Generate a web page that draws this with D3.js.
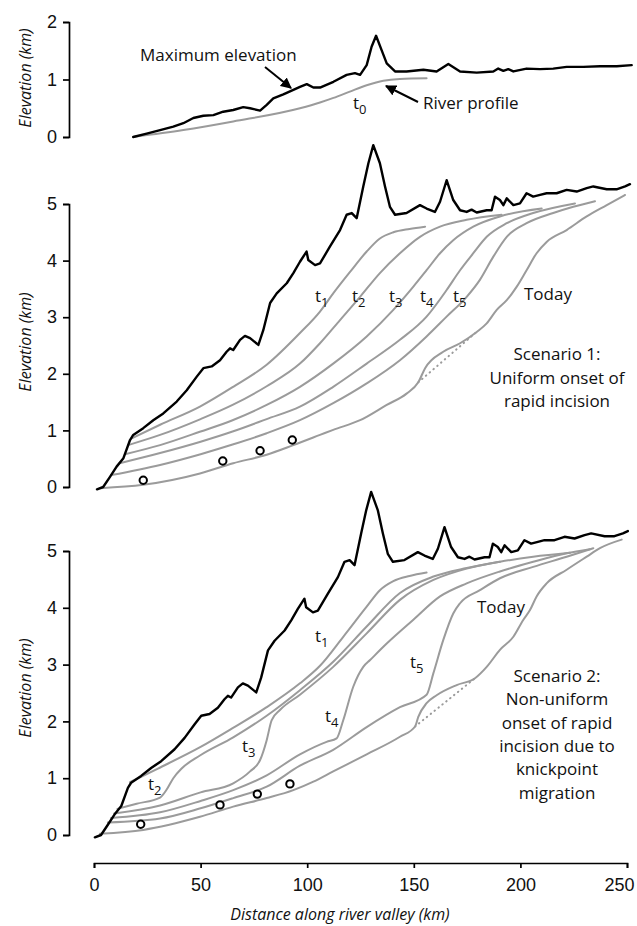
<!DOCTYPE html>
<html>
<head>
<meta charset="utf-8">
<script src="https://cdn.jsdelivr.net/npm/d3@7/dist/d3.min.js"></script>
<style>
  html, body { margin: 0; padding: 0; background: #fff; }
  svg { display: block; }
  .ann { font-family: "Open Sans", "Noto Sans", sans-serif; fill: #111; }
</style>
</head>
<body>
<svg id="chart" width="637" height="926"></svg>
<script>
// ---------------- DATA (km along valley, km elevation) ----------------
const xTicks = [0, 50, 100, 150, 200, 250];
const yTicksTop = [0, 1, 2];
const yTicksMain = [0, 1, 2, 3, 4, 5];

// Initial topography (panel t0)
const topMaxElevation = [[18.4,0],[24.7,0.06],[31,0.12],[37.2,0.18],[41.9,0.24],[46.6,0.33],[51.3,0.37],[56,0.38],[60.6,0.44],[65.3,0.47],[70,0.52],[73.2,0.50],[77.9,0.46],[81,0.56],[84.1,0.67],[88.8,0.74],[93.5,0.82],[96.6,0.87],[99.8,0.92],[102.9,0.86],[106,0.86],[112.3,0.96],[118.5,1.08],[122.4,1.11],[124.8,1.08],[127.9,1.25],[130.2,1.57],[132.3,1.76],[134.9,1.51],[137.3,1.28],[141.2,1.14],[146.6,1.14],[154.5,1.17],[160.7,1.14],[166.2,1.27],[171.7,1.14],[179.5,1.12],[187.3,1.14],[189.6,1.19],[192,1.15],[194.3,1.18],[196.7,1.14],[202.9,1.19],[209.2,1.18],[215.4,1.19],[221.7,1.22],[229.5,1.22],[237.4,1.23],[245.2,1.23],[252.2,1.25]];
const topRiverProfile = [[18.4,0],[41.9,0.12],[65.3,0.27],[96.6,0.50],[106,0.60],[112.3,0.68],[120,0.79],[127.9,0.90],[135.7,0.98],[143.5,1.01],[156,1.02]];

// Present-day maximum elevation (both scenarios)
const maxElevation = [[1.4,-0.04],[4.3,0],[7.5,0.18],[10.6,0.36],[13.8,0.51],[16.9,0.83],[18.4,0.92],[23.1,1.04],[27.8,1.18],[32.5,1.30],[38.8,1.51],[43.5,1.71],[48.2,1.95],[51.3,2.10],[55.2,2.13],[59.1,2.24],[62.2,2.39],[63.8,2.45],[65.3,2.42],[68.5,2.60],[70.8,2.67],[73.2,2.63],[77.1,2.51],[79.4,2.77],[82.6,3.25],[85.7,3.42],[90.4,3.60],[93.5,3.78],[96.6,3.98],[99.7,4.16],[100.5,4.01],[103.7,3.92],[106,3.95],[110.7,4.25],[115.4,4.54],[118.5,4.81],[120.9,4.84],[123.2,4.75],[126.3,5.31],[128.7,5.72],[131.0,6.04],[134.1,5.72],[136.5,5.31],[138.8,4.95],[141.2,4.81],[146.6,4.84],[152.9,4.98],[156,4.92],[159.9,4.86],[162.3,5.04],[165.4,5.42],[168.5,5.07],[171.7,4.89],[174.8,4.86],[177.1,4.90],[179.5,4.85],[184.2,4.89],[186.5,4.89],[188.1,5.13],[190.4,5.07],[192,4.98],[193.6,5.10],[196.7,4.98],[199.8,5.01],[202.9,5.19],[206,5.13],[209.2,5.16],[212.3,5.19],[217,5.19],[221.7,5.25],[226.4,5.22],[231.1,5.28],[234.2,5.31],[240.5,5.26],[245.1,5.26],[249.1,5.31],[251.4,5.35]];

// Scenario 1 river profiles
const s1T1 = [[17.7,0.86],[31,1.10],[49.7,1.42],[65.3,1.77],[81,2.16],[96.6,2.72],[106,3.10],[112.2,3.42],[120.1,3.80],[127.9,4.16],[134.1,4.39],[140.4,4.50],[148,4.56],[155.3,4.60]];
const s1T2 = [[16,0.74],[31,0.92],[50,1.2],[65,1.45],[81,1.78],[96.6,2.18],[106,2.54],[115.4,2.95],[124.8,3.36],[134.1,3.78],[143.5,4.13],[152.9,4.42],[162.3,4.60],[174.8,4.72],[191.2,4.81]];
const s1T3 = [[14.5,0.58],[31,0.74],[50,0.98],[65,1.18],[81,1.45],[96.6,1.77],[112.2,2.18],[127.9,2.66],[140.4,3.13],[149.8,3.54],[156,3.83],[162.3,4.13],[168.5,4.36],[177.9,4.60],[190.4,4.78],[210,4.92]];
const s1T4 = [[12,0.42],[31,0.60],[50,0.80],[65,0.98],[81,1.2],[96.6,1.42],[112.2,1.77],[127.9,2.18],[143.5,2.60],[156,3.01],[165.4,3.48],[171.7,3.83],[177.9,4.13],[184.2,4.42],[193.6,4.66],[206,4.84],[225.6,5.01]];
const s1T5 = [[8,0.21],[31,0.39],[50,0.58],[65,0.75],[81,0.95],[96.6,1.18],[112.2,1.48],[127.9,1.83],[143.5,2.24],[156,2.66],[165.4,3.01],[174.8,3.36],[181,3.66],[187.3,4.07],[193.6,4.42],[202.9,4.66],[215.4,4.84],[224.8,4.95],[235,5.05]];
const s1Today = [[2.8,-0.02],[23.1,0.04],[49.7,0.24],[65.3,0.42],[81,0.57],[93.5,0.74],[106,0.92],[112.2,1.01],[124.8,1.18],[137.3,1.45],[146.6,1.65],[152.1,1.85],[155.3,2.10],[163.8,2.39],[171.7,2.54],[179.5,2.74],[184.2,2.89],[188.9,3.13],[193.6,3.30],[198.3,3.54],[202.9,3.83],[207.6,4.13],[212.3,4.33],[221.7,4.54],[231.1,4.78],[240.5,4.98],[249.1,5.16]];
const s1Dotted = [[152.1,1.85],[179.5,2.74]];
const s1Samples = [[23.1,0.12],[60.4,0.46],[77.9,0.64],[93,0.83]];

// Scenario 2 river profiles
const s2T1 = [[16.9,0.93],[30,1.17],[50,1.55],[65,1.88],[81,2.25],[96.6,2.67],[106,2.98],[116.9,3.49],[127.9,4.02],[134.1,4.31],[140.4,4.47],[148,4.56],[156,4.62]];
const s2T2 = [[11,0.46],[20,0.55],[31,0.66],[34.1,0.80],[37.2,1.0],[41.1,1.17],[49.7,1.40],[65.3,1.72],[81,2.10],[96.6,2.55],[112.2,3.05],[127.9,3.67],[143.5,4.26],[159.2,4.55],[174.8,4.70],[190.4,4.81]];
const s2T3 = [[9.5,0.38],[31,0.52],[50,0.75],[65.3,0.91],[73.2,1.12],[77.9,1.32],[81,1.67],[83.3,2.02],[87.2,2.20],[96.6,2.47],[112.2,2.96],[127.9,3.55],[143.5,4.14],[159.2,4.49],[174.8,4.69],[190.4,4.81],[206,4.90],[223.3,4.97]];
const s2T4 = [[8,0.30],[31,0.40],[50,0.60],[65.3,0.79],[81,1.05],[96.6,1.42],[109.1,1.64],[113.8,1.70],[116.9,2.02],[121.6,2.61],[126.3,2.96],[129.5,3.08],[137.3,3.37],[149.8,3.79],[162.3,4.20],[174.8,4.43],[190.4,4.64],[206,4.81],[221.7,4.96],[232.6,5.03]];
const s2T5 = [[6.5,0.22],[31,0.29],[50,0.47],[65.3,0.65],[81,0.85],[96.6,1.22],[112.2,1.50],[127.9,1.90],[143.5,2.25],[156,2.47],[159.2,2.85],[163.8,3.43],[168.5,3.90],[171.7,4.08],[181,4.31],[190.4,4.52],[206,4.72],[221.7,4.90],[234.2,5.05]];
const s2Today = [[2.8,0.02],[23.1,0.09],[49.7,0.32],[65.3,0.50],[81,0.65],[93.5,0.79],[102.9,0.94],[112.2,1.12],[127.9,1.42],[143.5,1.73],[150.6,1.91],[152.1,2.08],[156,2.32],[160.7,2.46],[170.1,2.64],[178.7,2.76],[184.2,2.96],[190.4,3.26],[196.7,3.49],[201.4,3.79],[204.5,3.96],[207.6,4.20],[212.3,4.43],[221.7,4.67],[231.1,4.90],[237.3,5.05],[247.5,5.20]];
const s2Dotted = [[150.6,1.91],[178.7,2.76]];
const s2Samples = [[21.9,0.19],[59.1,0.53],[76.6,0.72],[91.9,0.90]];

// ---------------- DRAW ----------------
const svg = d3.select("#chart");
const x = d3.scaleLinear().domain([0, 250]).range([94, 627]);
const yTop = d3.scaleLinear().domain([0, 2]).range([137, 22]);
const yMid = d3.scaleLinear().domain([0, 5]).range([487, 204]);
const yBot = d3.scaleLinear().domain([0, 5]).range([835, 551]);

const GRAY = "#9b9b9b";
const TICKFONT = "Liberation Sans, Arial, Helvetica, sans-serif";

function yAxis(scale, ticks, titleY) {
  const g = svg.append("g").attr("transform", "translate(69,0)")
    .call(d3.axisLeft(scale).tickValues(ticks).tickSize(6).tickSizeOuter(6).tickPadding(6).tickFormat(d3.format("d")));
  g.attr("font-family", TICKFONT).attr("font-size", 18);
  g.select(".domain").attr("stroke", "#000").attr("stroke-width", 1.7);
  g.selectAll(".tick line").attr("stroke", "#000").attr("stroke-width", 1.7);
  g.selectAll(".tick text").attr("fill", "#111");
  svg.append("text").attr("class", "ann")
    .attr("transform", `translate(31,${titleY}) rotate(-90)`)
    .attr("text-anchor", "middle").attr("font-style", "italic").attr("font-size", 16)
    .text("Elevation (km)");
}

function drawLine(data, scale, opts) {
  const line = d3.line().x(d => x(d[0])).y(d => scale(d[1]))
    .curve(opts.curve || d3.curveLinear);
  svg.append("path").datum(data).attr("d", line)
    .attr("fill", "none").attr("stroke", opts.color)
    .attr("stroke-width", opts.width)
    .attr("stroke-linejoin", "round").attr("stroke-linecap", "round")
    .attr("stroke-dasharray", opts.dash || null);
}

function samples(data, scale) {
  svg.append("g").selectAll("circle").data(data).join("circle")
    .attr("cx", d => x(d[0])).attr("cy", d => scale(d[1])).attr("r", 3.7)
    .attr("fill", "#fff").attr("stroke", "#000").attr("stroke-width", 2);
}

function tLabel(px, py, sub) {
  const t = svg.append("text").attr("class", "ann").attr("x", px).attr("y", py).attr("font-size", 17);
  t.append("tspan").text("t");
  t.append("tspan").attr("dy", 5).attr("font-size", 13).text(sub);
}

function textBlock(lines, cx, y0, dy, size) {
  lines.forEach((s, i) => {
    svg.append("text").attr("class", "ann").attr("x", cx).attr("y", y0 + i * dy)
      .attr("text-anchor", "middle").attr("font-size", size).text(s);
  });
}

// Axes
yAxis(yTop, yTicksTop, 78);
yAxis(yMid, yTicksMain, 342);
yAxis(yBot, yTicksMain, 688);

const xg = svg.append("g").attr("transform", "translate(0,863)")
  .call(d3.axisBottom(x).tickValues(xTicks).tickSize(5).tickSizeOuter(5).tickPadding(10));
xg.attr("font-family", TICKFONT).attr("font-size", 18);
xg.select(".domain").attr("stroke", "#000").attr("stroke-width", 1.7);
xg.selectAll(".tick line").attr("stroke", "#000").attr("stroke-width", 1.7);
xg.selectAll(".tick text").attr("fill", "#111")
  .attr("text-anchor", d => d === 250 ? "end" : "middle")
  .attr("dx", d => d === 250 ? 7 : 0);
svg.append("text").attr("class", "ann").attr("x", 340).attr("y", 920)
  .attr("text-anchor", "middle").attr("font-style", "italic").attr("font-size", 16)
  .text("Distance along river valley (km)");

// Top panel
drawLine(topRiverProfile, yTop, {color: GRAY, width: 2, curve: d3.curveMonotoneX});
drawLine(topMaxElevation, yTop, {color: "#000", width: 2.4});
tLabel(353, 109, "0");

svg.append("defs").append("marker").attr("id", "ah")
  .attr("viewBox", "0 0 10 10").attr("refX", 9).attr("refY", 5)
  .attr("markerWidth", 11).attr("markerHeight", 11).attr("markerUnits", "userSpaceOnUse")
  .attr("orient", "auto")
  .append("path").attr("d", "M0,0L10,5L0,10Z").attr("fill", "#000");
svg.append("line").attr("x1", 265).attr("y1", 67).attr("x2", 291).attr("y2", 88)
  .attr("stroke", "#000").attr("stroke-width", 2).attr("marker-end", "url(#ah)");
svg.append("line").attr("x1", 418).attr("y1", 102).attr("x2", 386).attr("y2", 86)
  .attr("stroke", "#000").attr("stroke-width", 2).attr("marker-end", "url(#ah)");
svg.append("text").attr("class", "ann").attr("x", 140).attr("y", 61).attr("font-size", 17).text("Maximum elevation");
svg.append("text").attr("class", "ann").attr("x", 423).attr("y", 109).attr("font-size", 17).text("River profile");

// Middle panel (Scenario 1)
[s1T1, s1T2, s1T3, s1T4, s1T5, s1Today].forEach(d =>
  drawLine(d, yMid, {color: GRAY, width: 2, curve: d3.curveMonotoneX}));
drawLine(s1Dotted, yMid, {color: GRAY, width: 2, dash: "0.5,4.5"});
drawLine(maxElevation, yMid, {color: "#000", width: 2.4});
samples(s1Samples, yMid);
tLabel(315, 302, "1"); tLabel(352, 302, "2"); tLabel(389, 302, "3"); tLabel(420, 302, "4"); tLabel(453, 302, "5");
svg.append("text").attr("class", "ann").attr("x", 524).attr("y", 300).attr("font-size", 17).text("Today");
textBlock(["Scenario 1:", "Uniform onset of", "rapid incision"], 557, 360, 23.5, 17);

// Bottom panel (Scenario 2)
[s2T1, s2T2, s2T3, s2T4, s2T5, s2Today].forEach(d =>
  drawLine(d, yBot, {color: GRAY, width: 2, curve: d3.curveMonotoneX}));
drawLine(s2Dotted, yBot, {color: GRAY, width: 2, dash: "0.5,4.5"});
drawLine(maxElevation.map(d => [d[0] - 1, d[1]]), yBot, {color: "#000", width: 2.4});
samples(s2Samples, yBot);
tLabel(315, 642, "1"); tLabel(148, 790, "2"); tLabel(242, 752, "3"); tLabel(325, 722, "4"); tLabel(410, 668, "5");
svg.append("text").attr("class", "ann").attr("x", 477).attr("y", 613).attr("font-size", 17).text("Today");
textBlock(["Scenario 2:", "Non-uniform", "onset of rapid", "incision due to", "knickpoint", "migration"], 557, 682, 23.3, 17);
</script>
</body>
</html>
